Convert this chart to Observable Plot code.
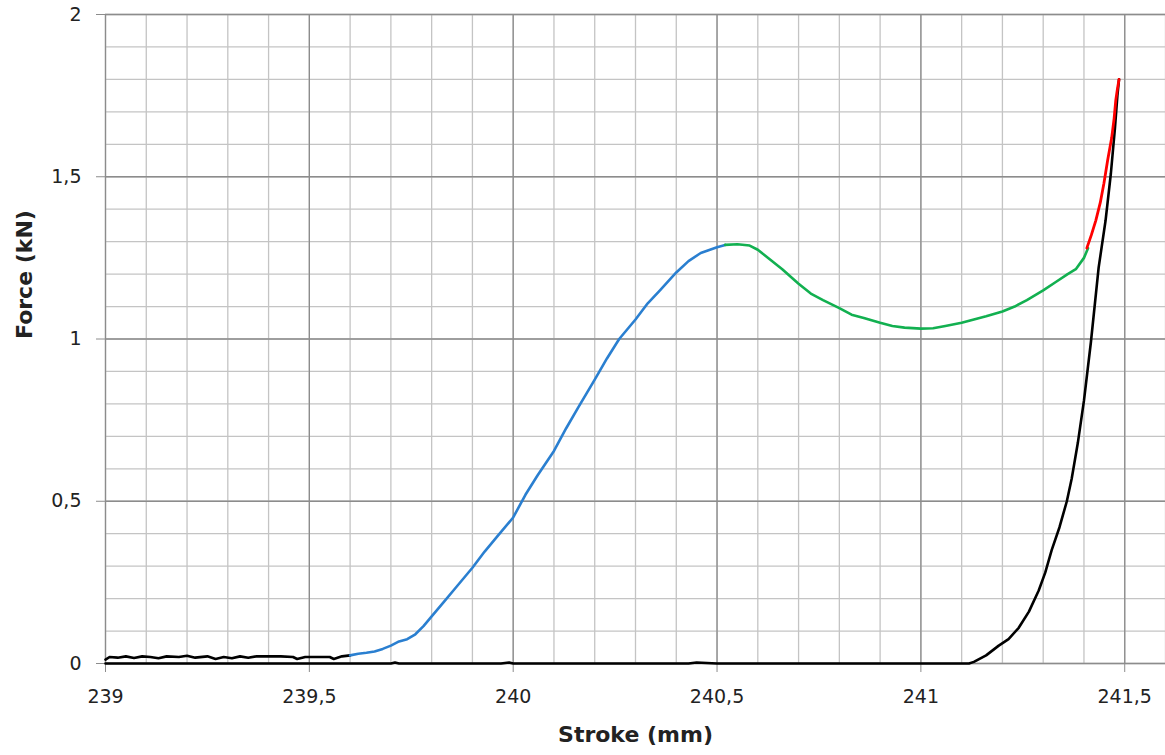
<!DOCTYPE html>
<html>
<head>
<meta charset="utf-8">
<script src="https://cdn.jsdelivr.net/npm/d3@7"></script>
<script src="https://cdn.jsdelivr.net/npm/@observablehq/plot@0.6"></script>
<style>
  html, body { margin: 0; padding: 0; background: #fff; }
  #chart svg { display: block; }
</style>
</head>
<body>
<div id="chart"></div>
<script>
// Black: initial loading, flat part
const blackStart = [[239.0,0.012],[239.01,0.02],[239.03,0.018],[239.05,0.022],[239.07,0.017],[239.09,0.022],[239.11,0.02],[239.13,0.016],[239.15,0.022],[239.18,0.02],[239.2,0.024],[239.22,0.018],[239.25,0.022],[239.27,0.014],[239.29,0.02],[239.31,0.016],[239.33,0.022],[239.35,0.018],[239.37,0.022],[239.4,0.022],[239.43,0.022],[239.46,0.02],[239.47,0.014],[239.49,0.02],[239.52,0.02],[239.55,0.02],[239.56,0.014],[239.58,0.022],[239.6,0.025]];
// Blue: rising part
const blueSeg = [[239.6,0.025],[239.62,0.03],[239.64,0.033],[239.66,0.037],[239.68,0.045],[239.7,0.055],[239.72,0.068],[239.74,0.075],[239.76,0.09],[239.78,0.115],[239.8,0.145],[239.83,0.19],[239.86,0.235],[239.9,0.295],[239.93,0.345],[239.96,0.39],[240.0,0.45],[240.03,0.52],[240.06,0.58],[240.1,0.655],[240.13,0.725],[240.16,0.79],[240.2,0.875],[240.23,0.94],[240.26,1.0],[240.3,1.06],[240.33,1.11],[240.36,1.15],[240.4,1.205],[240.43,1.24],[240.46,1.265],[240.5,1.283],[240.52,1.29]];
// Green: peak, valley
const greenSeg = [[240.52,1.29],[240.55,1.292],[240.58,1.288],[240.6,1.275],[240.63,1.245],[240.66,1.215],[240.7,1.17],[240.73,1.14],[240.76,1.12],[240.8,1.095],[240.83,1.075],[240.86,1.065],[240.9,1.05],[240.93,1.04],[240.96,1.035],[241.0,1.032],[241.03,1.033],[241.06,1.04],[241.1,1.05],[241.13,1.06],[241.16,1.07],[241.2,1.085],[241.23,1.1],[241.26,1.12],[241.3,1.15],[241.33,1.175],[241.36,1.2],[241.38,1.215],[241.4,1.25],[241.41,1.28]];
// Red: final steep rise
const redSeg = [[241.407,1.28],[241.418,1.32],[241.429,1.365],[241.44,1.42],[241.449,1.48],[241.458,1.55],[241.468,1.62],[241.474,1.68],[241.478,1.735],[241.482,1.77],[241.486,1.8]];
// Black: unloading and return at zero
const blackEnd = [[241.486,1.8],[241.482,1.75],[241.476,1.65],[241.466,1.51],[241.453,1.365],[241.436,1.22],[241.417,0.99],[241.4,0.81],[241.385,0.68],[241.37,0.57],[241.358,0.5],[241.34,0.42],[241.321,0.35],[241.305,0.28],[241.289,0.225],[241.265,0.16],[241.24,0.11],[241.215,0.075],[241.191,0.055],[241.16,0.025],[241.13,0.005],[241.118,0],[240.5,0],[240.45,0.003],[240.43,0],[240.0,0],[239.99,0.003],[239.97,0],[239.72,0],[239.71,0.003],[239.7,0],[239.0,0]];

const xMinor = [239,239.1,239.2,239.3,239.4,239.5,239.6,239.7,239.8,239.9,240,240.1,240.2,240.3,240.4,240.5,240.6,240.7,240.8,240.9,241,241.1,241.2,241.3,241.4,241.5,241.6];
const xMajor = [239,239.5,240,240.5,241,241.5];
const yMinor = [0,0.1,0.2,0.3,0.4,0.5,0.6,0.7,0.8,0.9,1,1.1,1.2,1.3,1.4,1.5,1.6,1.7,1.8,1.9,2];
const yMajor = [0,0.5,1,1.5,2];

const fmt = d => String(d).replace(".", ",");
const pts = a => a.map(([x, y]) => ({x, y}));

const chart = Plot.plot({
  width: 1165,
  height: 755,
  marginLeft: 105,
  marginRight: 0,
  marginTop: 14,
  marginBottom: 92,
  style: {fontFamily: "'DejaVu Sans', sans-serif", fontSize: "20px", color: "#222", background: "#fff"},
  x: {domain: [239, 241.6]},
  y: {domain: [0, 2]},
  marks: [
    Plot.ruleX(xMinor, {stroke: "#c4c4c4", strokeWidth: 1.3}),
    Plot.ruleY(yMinor, {stroke: "#c4c4c4", strokeWidth: 1.3}),
    Plot.ruleX(xMajor, {stroke: "#8c8c8c", strokeWidth: 1.3}),
    Plot.ruleY(yMajor, {stroke: "#8c8c8c", strokeWidth: 1.3}),
    Plot.axisX({ticks: xMajor, tickFormat: fmt, tickSize: 9, tickPadding: 17, stroke: "#8c8c8c", label: null, fontSize: 19}),
    Plot.axisY({ticks: yMajor, tickFormat: fmt, tickSize: 9, tickPadding: 15, stroke: "#8c8c8c", label: null, fontSize: 19}),
    Plot.line(pts(blackStart), {x: "x", y: "y", stroke: "#000", strokeWidth: 2.6}),
    Plot.line(pts(blackEnd), {x: "x", y: "y", stroke: "#000", strokeWidth: 2.6}),
    Plot.line(pts(blueSeg), {x: "x", y: "y", stroke: "#2a7fd0", strokeWidth: 2.6}),
    Plot.line(pts(greenSeg), {x: "x", y: "y", stroke: "#12b050", strokeWidth: 2.6}),
    Plot.line(pts(redSeg), {x: "x", y: "y", stroke: "#ff0000", strokeWidth: 2.8}),
    Plot.text(["Stroke (mm)"], {frameAnchor: "bottom", dy: 78, fontWeight: "bold", fontSize: 22, fill: "#222"}),
    Plot.text(["Force (kN)"], {frameAnchor: "left", dx: -81, rotate: -90, fontWeight: "bold", fontSize: 22, fill: "#222"})
  ]
});
document.getElementById("chart").appendChild(chart);
</script>
</body>
</html>
